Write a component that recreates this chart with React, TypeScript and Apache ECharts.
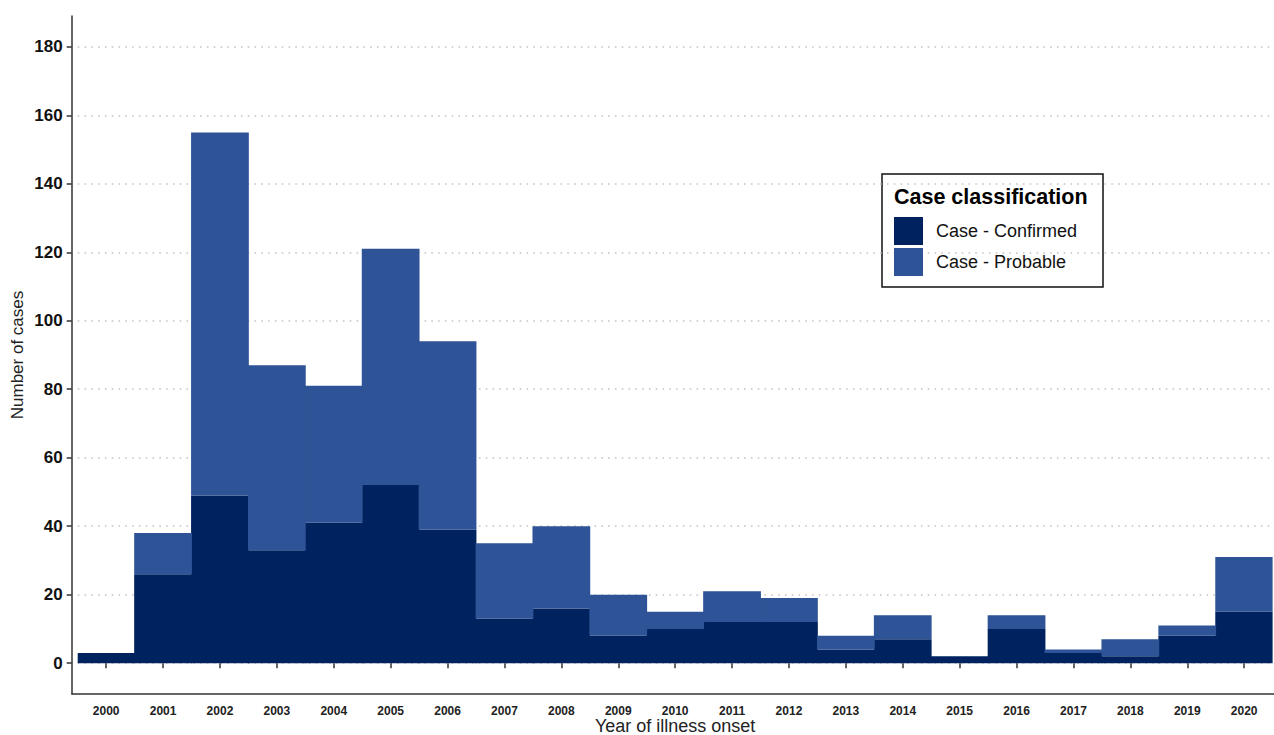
import React, { useEffect, useRef } from "react";
import * as echarts from "echarts";

const years = ["2000","2001","2002","2003","2004","2005","2006","2007","2008","2009","2010","2011","2012","2013","2014","2015","2016","2017","2018","2019","2020"];
const confirmed = [3, 26, 49, 33, 41, 52, 39, 13, 16, 8, 10, 12, 12, 4, 7, 2, 10, 3, 2, 8, 15];
const probable = [0, 12, 106, 54, 40, 69, 55, 22, 24, 12, 5, 9, 7, 4, 7, 0, 4, 1, 5, 3, 16];
const yTicks = [0, 20, 40, 60, 80, 100, 120, 140, 160, 180];

const FONT = "'Liberation Sans', Arial, sans-serif";
const DARK = "#00235F";
const LIGHT = "#2E5396";

export default function App() {
  const ref = useRef<HTMLDivElement>(null);
  useEffect(() => {
    if (!ref.current) return;
    const chart = echarts.init(ref.current, null, { renderer: "svg" });
    chart.setOption({
      animation: false,
      backgroundColor: "#ffffff",
      textStyle: { fontFamily: FONT },
      grid: [
        { left: 77.7, width: 1194.9, top: 16, height: 678, containLabel: false, outerBoundsMode: "none" },
        { left: 72, width: 1206.3, top: 16, height: 678, containLabel: false, outerBoundsMode: "none" },
      ],
      legend: {
        orient: "vertical",
        left: 894,
        top: 217,
        padding: 0,
        itemWidth: 29,
        itemHeight: 28,
        itemGap: 3,
        icon: "rect",
        textStyle: { fontSize: 18, color: "#111", fontFamily: FONT, padding: [0, 0, 0, 8] },
        data: ["Case - Confirmed", "Case - Probable"],
      },
      graphic: [
        {
          type: "rect",
          shape: { x: 882, y: 174, width: 221, height: 113 },
          style: { fill: "#fff", stroke: "#111", lineWidth: 1.5 },
          z: -1,
        },
        {
          type: "text",
          x: 894,
          y: 197,
          style: {
            text: "Case classification",
            font: `bold 21.5px ${FONT}`,
            fill: "#000",
            textVerticalAlign: "middle",
          },
        },
      ],
      xAxis: [
        {
          type: "category",
          gridIndex: 0,
          data: years,
          axisLine: { show: false },
          axisTick: { show: true, alignWithLabel: true, length: 5, lineStyle: { color: "#333", width: 1.5 } },
          axisLabel: { fontSize: 12, fontWeight: "bold", color: "#222", margin: 11, interval: 0, fontFamily: FONT },
          splitLine: { show: false },
          name: "Year of illness onset",
          nameLocation: "middle",
          nameGap: 23,
          nameMoveOverlap: false,
          nameTextStyle: { fontSize: 18, color: "#222", fontFamily: FONT },
        },
        {
          type: "value",
          gridIndex: 1,
          min: 0,
          max: 1,
          axisLine: { show: true, lineStyle: { color: "#333", width: 1.5 } },
          axisTick: { show: false },
          axisLabel: { show: false },
          splitLine: { show: false },
        },
      ],
      yAxis: [
        {
          type: "value",
          gridIndex: 0,
          min: -9,
          max: 189,
          offset: 6,
          axisLine: { show: true, lineStyle: { color: "#333", width: 1.5 } },
          axisTick: { show: true, length: 5, customValues: yTicks, lineStyle: { color: "#333", width: 1.5 } },
          axisLabel: { customValues: yTicks, fontSize: 17, fontWeight: "bold", color: "#111", margin: 9, fontFamily: FONT },
          splitLine: { show: true, lineStyle: { color: "#c4c4c4", width: 1.6, type: [1.6, 5.2] } },
          name: "Number of cases",
          nameLocation: "middle",
          nameGap: 46,
          nameMoveOverlap: false,
          nameTextStyle: { fontSize: 17, color: "#222", fontFamily: FONT },
        },
        { type: "value", gridIndex: 1, show: false, min: 0, max: 1 },
      ],
      series: [
        {
          name: "Case - Confirmed",
          type: "bar",
          stack: "cases",
          xAxisIndex: 0,
          yAxisIndex: 0,
          barWidth: "101.5%",
          itemStyle: { color: DARK, borderWidth: 0 },
          data: confirmed,
        },
        {
          name: "Case - Probable",
          type: "bar",
          stack: "cases",
          xAxisIndex: 0,
          yAxisIndex: 0,
          barWidth: "101.5%",
          itemStyle: { color: LIGHT, borderWidth: 0 },
          data: probable,
        },
      ],
    });
    return () => chart.dispose();
  }, []);
  return (
    <div
      ref={ref}
      style={{ position: "fixed", left: 0, top: 0, width: 1274, height: 735, background: "#fff" }}
    />
  );
}
